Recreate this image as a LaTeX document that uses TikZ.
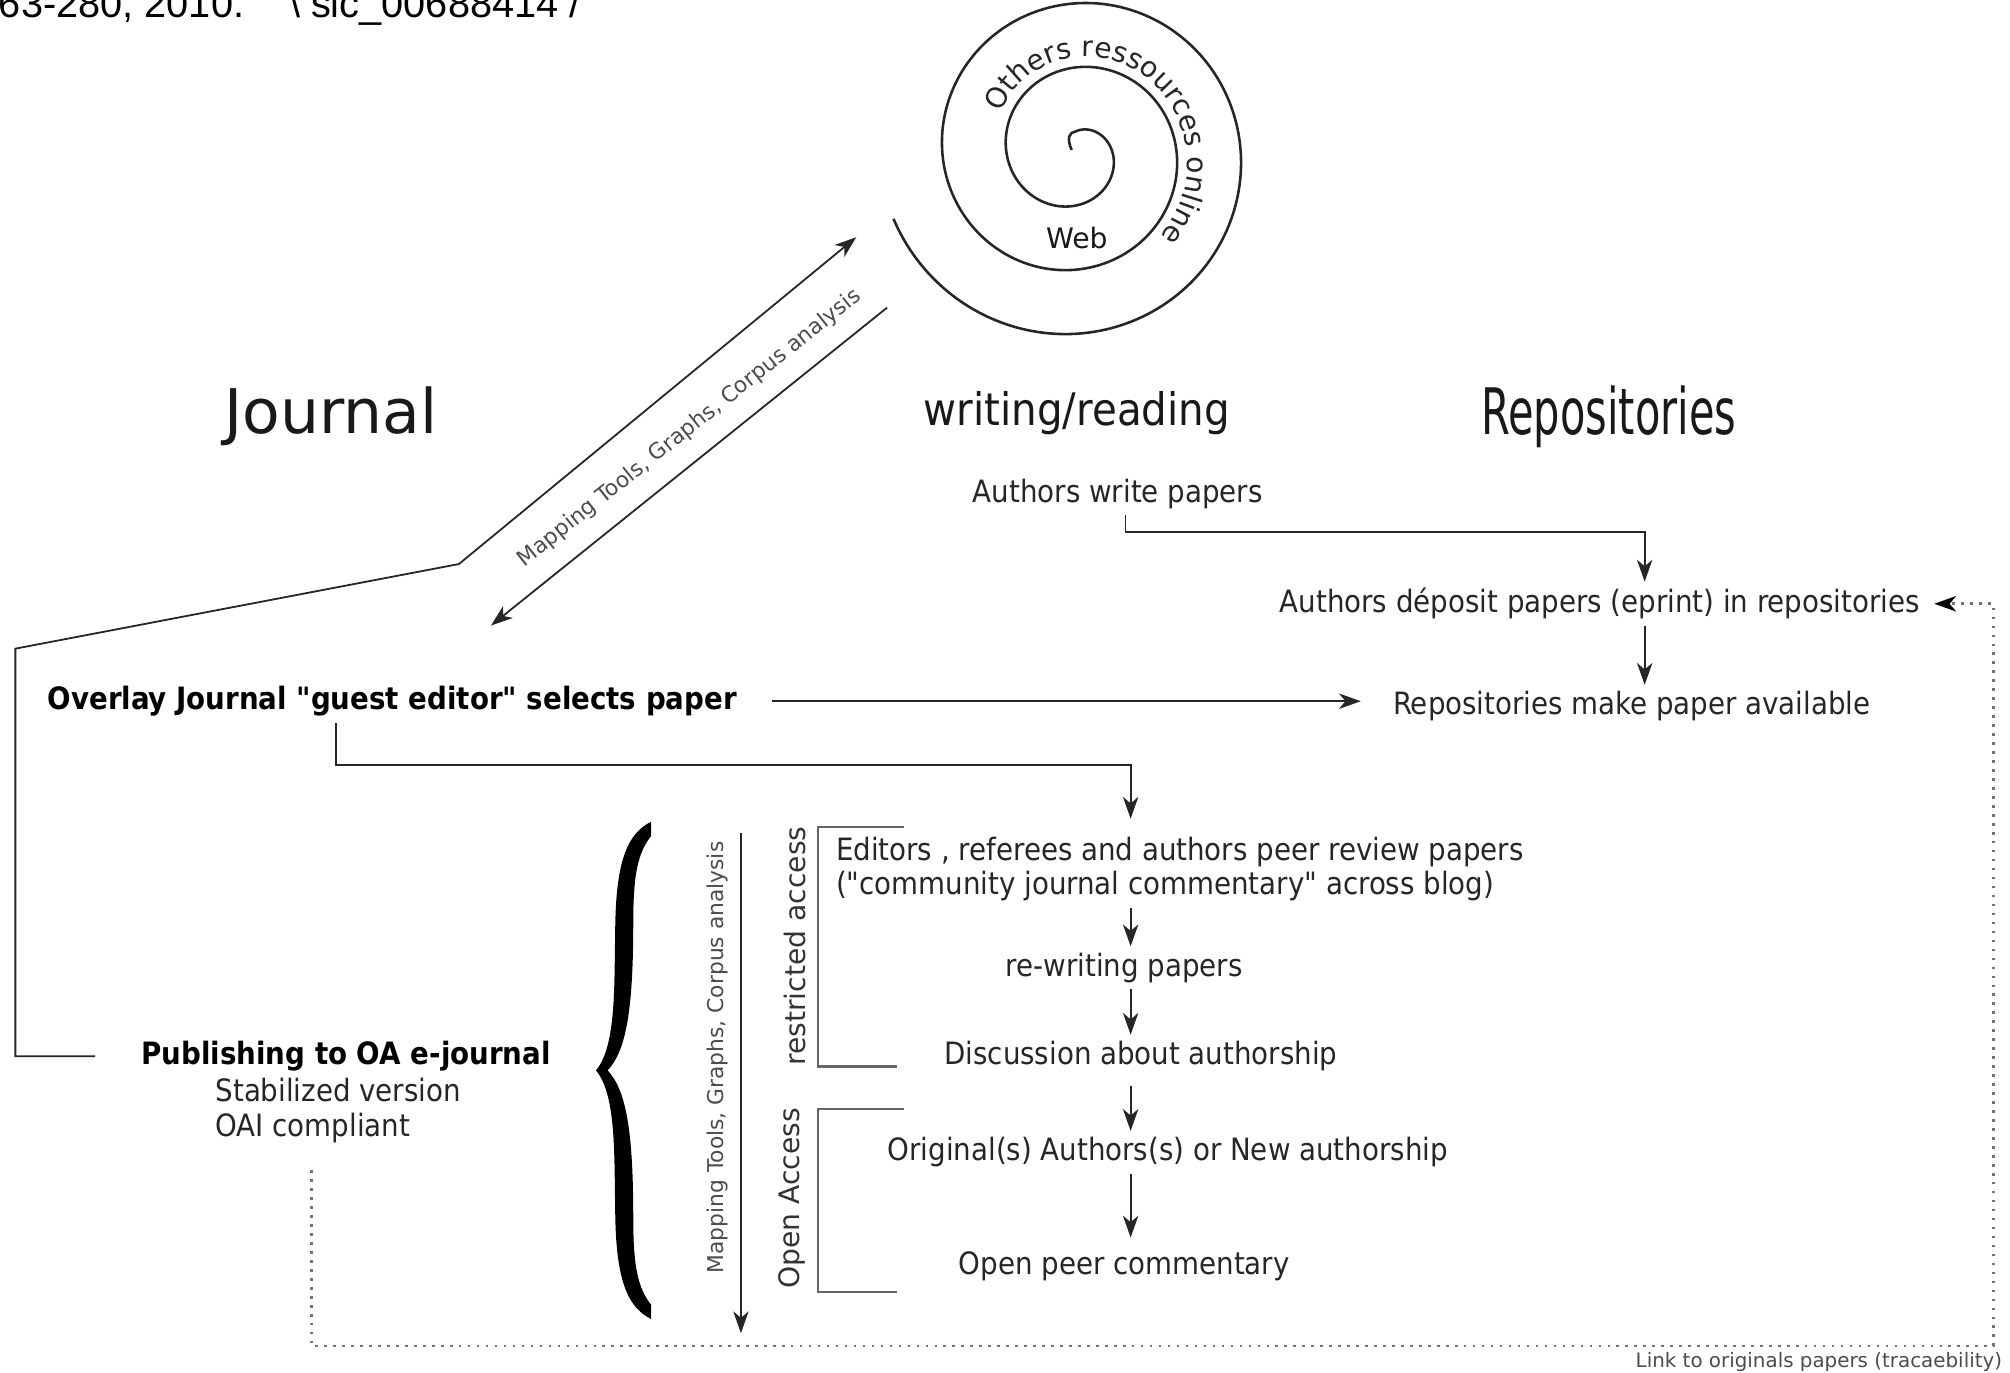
\documentclass[tikz,border=0pt]{standalone}
\usepackage{fontspec}
\setmainfont{DejaVu Sans}
\newfontfamily\condfont{DejaVu Sans Condensed}
\newfontfamily\sourcefont{Liberation Sans}
\usetikzlibrary{arrows.meta,decorations.text,positioning}
\newcommand{\mainsize}{\condfont\fontsize{24}{27}\selectfont}
\newcommand{\spiralfont}{\fontsize{22}{24}\selectfont}
\tikzset{main node/.style={inner sep=5pt,text=black!85,font=\mainsize},
         bold node/.style={inner sep=5pt,text=black,font=\mainsize\bfseries},
         head node/.style={inner sep=0pt,text=black!90},
         side label/.style={inner sep=0pt,text=black!80,font=\fontsize{22}{24}\selectfont,rotate=90},
         tool label/.style={inner sep=0pt,text=black!70,font=\fontsize{17}{19}\selectfont},
         flow arrow/.style={->,line width=1.4pt,draw=black!85},
         plain line/.style={line width=1.4pt,draw=black!85},
         bracket line/.style={line width=2pt,draw=black!60},
         link line/.style={line width=2pt,draw=black!55,dash pattern=on 2pt off 5pt}
}
\begin{document}
\begin{tikzpicture}[x=1pt,y=-1pt,
>={Stealth[length=17pt,width=12pt,inset=5pt]}]
\useasboundingbox (0,0) rectangle (1568,1071);
% source line, cut at the top
\node[anchor=base west,inner sep=0pt,font=\sourcefont\fontsize{31}{33}\selectfont] (source) at (-1,14)
    {63-280, 2010.\hspace{35pt}\textbackslash{} sic\_00688414 /};
% the web spiral
\draw[line width=2pt,draw=black!85] (836,117) .. controls (832,108) and (834,103) .. (839,102.6)
    -- plot[domain=-90:880,samples=300,smooth,variable=\t]
    ({839+(28.9+12.5*\t/90)*cos(\t)},{119+(28.9+12.5*\t/90)*sin(\t)});
\begin{scope}[transform canvas={shift={(839pt,-119pt)}}]
\path[decorate,decoration={text along path,text align=left,
      text={|\spiralfont\color{black!85}|Others ressources online}}]
    plot[domain=208:440,samples=160,variable=\t]
    ({(36.9+12.5*\t/90)*cos(\t)},{(36.9+12.5*\t/90)*sin(\t)});
\end{scope}
\node[head node,font=\spiralfont] (web) at (840,186) {Web};
% headers
\node[head node,font=\fontsize{48}{50}\selectfont] (journal) at (258,325) {Journal};
\node[head node,font=\condfont\fontsize{35}{37}\selectfont] (rw) at (840,322) {writing/reading};
\node[head node,font=\condfont\fontsize{50}{52}\selectfont] (repo) at (1255,325) {\scalebox{0.72}[1]{Repositories}};
% repositories side
\node[main node] (write) at (872,385) {Authors write papers};
\node[main node] (deposit) at (1248,471) {Authors déposit papers (eprint) in repositories};
\node[main node] (avail) at (1273,551) {Repositories make paper available};
\coordinate (rtrunk) at (1283,0);
\draw[flow arrow] ([xshift=6pt]write.south) -- ++(0,13) -| (deposit.north -| rtrunk);
\draw[flow arrow] (deposit.south -| rtrunk) -- (avail.north -| rtrunk);
% journal side
\node[bold node] (overlay) at (306,547) {Overlay Journal "guest editor" selects paper};
\draw[flow arrow,shorten <=22pt,shorten >=20pt] (overlay.east) -- (overlay.east -| avail.west);
\node[bold node] (publish) at (270,824) {Publishing to OA e-journal};
\node[main node,align=left,anchor=west] (pubinfo) at (163,866.5) {Stabilized version\\OAI compliant};
% review chain
\coordinate (trunk) at (882,0);
\node[main node,align=left,anchor=west] (editors) at (647,678)
    {Editors , referees and authors peer review papers\\("community journal commentary" across blog)};
\node[main node] (rewrite) at (877,755) {re-writing papers};
\node[main node] (discuss) at (890,824) {Discussion about authorship};
\node[main node] (orig) at (911,899) {Original(s) Authors(s) or New authorship};
\node[main node] (openpc) at (877,988) {Open peer commentary};
\draw[flow arrow,shorten >=9pt] ([xshift=-44pt]overlay.south) -- ++(0,33) -| (editors.north -| trunk);
\draw[flow arrow] (editors.south -| trunk) -- (rewrite.north -| trunk);
\draw[flow arrow] (rewrite.south -| trunk) -- (discuss.north -| trunk);
\draw[flow arrow,shorten <=6pt] (discuss.south -| trunk) -- (orig.north -| trunk);
\draw[flow arrow,shorten >=6pt] (orig.south -| trunk) -- (openpc.north -| trunk);
% access brackets
\node[side label] (restricted) at (620,738) {restricted access};
\node[side label] (openacc) at (618,935) {Open Access};
\draw[bracket line] (705,645) -- (638,645) -- (638,832) -- (700,832);
\draw[bracket line] (705,865) -- (638,865) -- (638,1008) -- (700,1008);
% tools along the review
\node[tool label,rotate=90] (toolsv) at (560,825) {Mapping Tools, Graphs, Corpus analysis};
\coordinate (toolstop) at (578,650);
\coordinate (toolsend) at (578,1040);
\draw[flow arrow,line width=1.2pt] (toolstop) -- (toolsend);
\fill[black] (508,641) .. controls (490,650) and (481,670) .. (480,720)
    .. controls (479,770) and (481,815) .. (465,835)
    .. controls (481,855) and (479,900) .. (480,950)
    .. controls (481,1000) and (490,1020) .. (508,1029) -- (508,1018)
    .. controls (498,1005) and (494,990) .. (494,950)
    .. controls (494,880) and (488,850) .. (474,835)
    .. controls (488,820) and (494,790) .. (494,720)
    .. controls (494,680) and (498,665) .. (508,652) -- cycle;
% journal to web and back
\coordinate (jbend) at (12,506);
\coordinate (jknee) at (358,440);
\coordinate (webin) at (668,185);
\coordinate (webout) at (692,240);
\coordinate (overlayin) at (383,488);
\draw[plain line,->] ([xshift=-31pt]publish.west) -| (jbend) -- (jknee) -- (webin);
\draw[flow arrow] (webout) -- (overlayin);
\node[tool label,rotate=38.5] (toolsd) at (538,334) {Mapping Tools, Graphs, Corpus analysis};
% traceability link
\coordinate (lk) at (243,913);
\draw[link line,-{Stealth[length=17pt,width=12pt,inset=5pt,color=black]},shorten >=6pt]
    (lk) |- (1555,1050) |- (deposit.east);
\node[anchor=north east,inner sep=0pt,text=black!70,font=\fontsize{15.5}{17}\selectfont] (link) at (1562,1055)
    {Link to originals papers (tracaebility)};
\end{tikzpicture}
\end{document}
